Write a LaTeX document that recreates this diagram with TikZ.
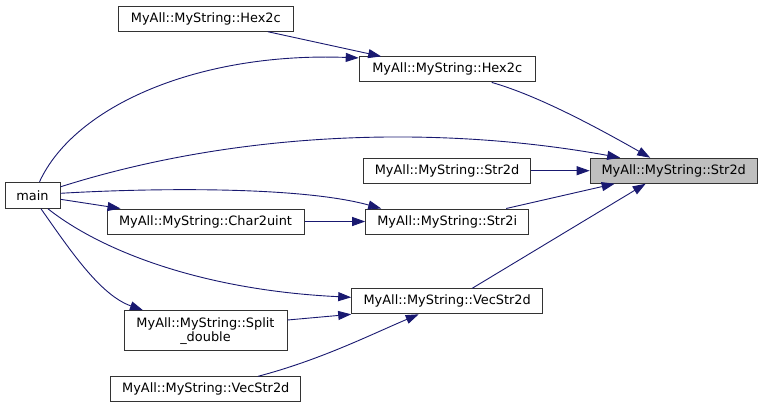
\documentclass[tikz,border=0pt]{standalone}
\usepackage{fontspec}
\setmainfont{DejaVu Sans}
\usetikzlibrary{arrows.meta, calc}
\definecolor{edgeblue}{HTML}{191970}
\definecolor{rootgray}{HTML}{BFBFBF}

\begin{document}
\begin{tikzpicture}[
    x=1pt, y=-1pt,
    fn/.style={rectangle, draw=black!80, line width=1pt, fill=white, minimum height=25pt, inner sep=0pt, align=center, font=\fontsize{12.9}{14}\selectfont},
    root/.style={fn, fill=rootgray},
    call/.style={-{Triangle[length=13pt, width=9pt]}, color=edgeblue, line width=0.9pt}
]
    \useasboundingbox (0,0) rectangle (763,408);

    % Nodes
    \node[fn, minimum width=175pt] (hexA) at (205.8,18.7) {MyAll::MyString::Hex2c};
    \node[fn, minimum width=176pt] (hexB) at (447.2,69.4) {MyAll::MyString::Hex2c};
    \node[root, minimum width=167pt] (str2d) at (673.7,170.7) {MyAll::MyString::Str2d};
    \node[fn, minimum width=167pt] (str2dL) at (447,170.7) {MyAll::MyString::Str2d};
    \node[fn, minimum width=55pt, minimum height=26pt] (main) at (32.5,195.3) {main};
    \node[fn, minimum width=197pt] (char) at (205.5,221.5) {MyAll::MyString::Char2uint};
    \node[fn, minimum width=163pt] (str2i) at (447.2,221.5) {MyAll::MyString::Str2i};
    \node[fn, minimum width=191pt] (vecM) at (447.2,301.3) {MyAll::MyString::VecStr2d};
    \node[fn, minimum width=163pt, minimum height=40pt] (split) at (205.5,330.7) {MyAll::MyString::Split\\\_double};
    \node[fn, minimum width=190pt] (vecB) at (205.8,389.3) {MyAll::MyString::VecStr2d};

    % Calls into Hex2c
    \draw[call] ($(hexA.south)+(62,0)$) -- ($(hexB.north)+(-66,0)$);
    \draw[call] ($(main.north)+(7,0)$) .. controls (75,105) and (200,52) .. ($(hexB.west)+(0,-11.5)$);

    % Calls into Str2d
    \draw[call] ($(hexB.south)+(44.5,0)$) .. controls (525,92) and (570,112) .. ($(str2d.north)+(-23.5,0)$);
    \draw[call] ($(main.east)+(0,-8.5)$) .. controls (240,130) and (440,125) .. ($(str2d.north)+(-53.5,0)$);
    \draw[call] (str2dL.east) -- (str2d.west);
    \draw[call] ($(str2i.north)+(59,0)$) -- ($(str2d.south)+(-59,0)$);
    \draw[call] ($(vecM.north)+(25,0)$) -- ($(str2d.south)+(-28,0)$);

    % Calls into Str2i and Char2uint
    \draw[call] ($(main.east)+(0,-2)$) .. controls (150,188) and (300,186) .. ($(str2i.north)+(-66,0)$);
    \draw[call] ($(main.east)+(0,4)$) -- ($(char.north)+(-85,0)$);
    \draw[call] (char.east) -- (str2i.west);

    % Calls into VecStr2d and Split_double
    \draw[call] ($(main.south)+(15.5,0)$) .. controls (100,250) and (200,290) .. ($(vecM.west)+(0,-4)$);
    \draw[call] ($(main.south)+(8.5,0)$) .. controls (70,250) and (100,295) .. ($(split.north)+(-62.5,0)$);
    \draw[call] ($(split.east)+(0,-10.7)$) -- (vecM.south west);
    \draw[call] ($(vecB.north)+(52.2,0)$) .. controls (320,360) and (370,335) .. ($(vecM.south)+(-28.5,0)$);

\end{tikzpicture}
\end{document}
